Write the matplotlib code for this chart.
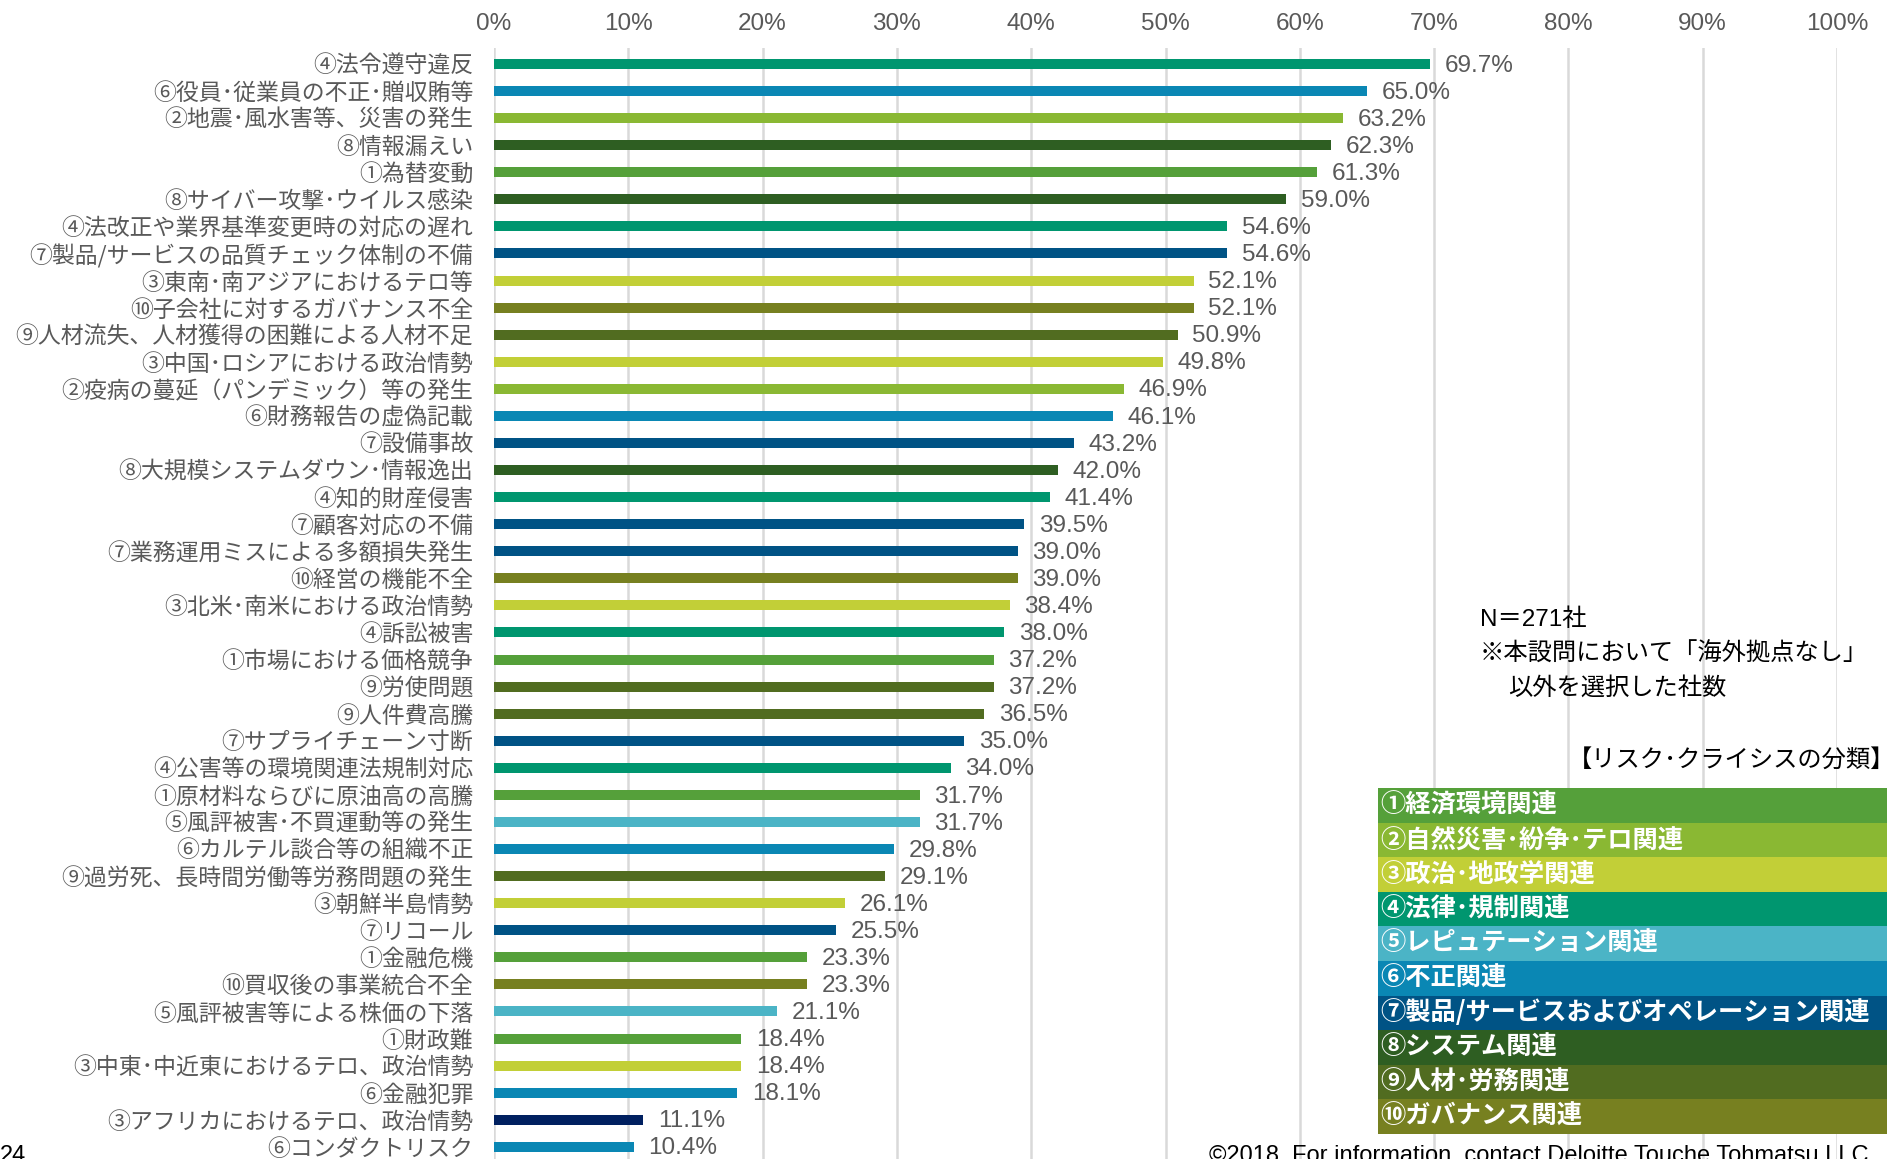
import numpy as np
import matplotlib.pyplot as plt
from matplotlib import font_manager

# risk items (top to bottom) and the share of companies choosing each
labels = [
    "④法令遵守違反",
    "⑥役員･従業員の不正･贈収賄等",
    "②地震･風水害等、災害の発生",
    "⑧情報漏えい",
    "①為替変動",
    "⑧サイバー攻撃･ウイルス感染",
    "④法改正や業界基準変更時の対応の遅れ",
    "⑦製品/サービスの品質チェック体制の不備",
    "③東南･南アジアにおけるテロ等",
    "⑩子会社に対するガバナンス不全",
    "⑨人材流失、人材獲得の困難による人材不足",
    "③中国･ロシアにおける政治情勢",
    "②疫病の蔓延（パンデミック）等の発生",
    "⑥財務報告の虚偽記載",
    "⑦設備事故",
    "⑧大規模システムダウン･情報逸出",
    "④知的財産侵害",
    "⑦顧客対応の不備",
    "⑦業務運用ミスによる多額損失発生",
    "⑩経営の機能不全",
    "③北米･南米における政治情勢",
    "④訴訟被害",
    "①市場における価格競争",
    "⑨労使問題",
    "⑨人件費高騰",
    "⑦サプライチェーン寸断",
    "④公害等の環境関連法規制対応",
    "①原材料ならびに原油高の高騰",
    "⑤風評被害･不買運動等の発生",
    "⑥カルテル談合等の組織不正",
    "⑨過労死、長時間労働等労務問題の発生",
    "③朝鮮半島情勢",
    "⑦リコール",
    "①金融危機",
    "⑩買収後の事業統合不全",
    "⑤風評被害等による株価の下落",
    "①財政難",
    "③中東･中近東におけるテロ、政治情勢",
    "⑥金融犯罪",
    "③アフリカにおけるテロ、政治情勢",
    "⑥コンダクトリスク",
]
values = [69.7, 65.0, 63.2, 62.3, 61.3, 59.0, 54.6, 54.6, 52.1, 52.1,
          50.9, 49.8, 46.9, 46.1, 43.2, 42.0, 41.4, 39.5, 39.0, 39.0,
          38.4, 38.0, 37.2, 37.2, 36.5, 35.0, 34.0, 31.7, 31.7, 29.8,
          29.1, 26.1, 25.5, 23.3, 23.3, 21.1, 18.4, 18.4, 18.1, 11.1, 10.4]

categories = [
    "①経済環境関連",
    "②自然災害･紛争･テロ関連",
    "③政治･地政学関連",
    "④法律･規制関連",
    "⑤レピュテーション関連",
    "⑥不正関連",
    "⑦製品/サービスおよびオペレーション関連",
    "⑧システム関連",
    "⑨人材･労務関連",
    "⑩ガバナンス関連",
]
xticks = [0, 10, 20, 30, 40, 50, 60, 70, 80, 90, 100]

cat_colors = ["#55A03A", "#8AB833", "#C2CF37", "#00966F", "#4BB4C6",
              "#0A87B4", "#005385", "#2E5E22", "#516C20", "#778020"]
nums = "①②③④⑤⑥⑦⑧⑨⑩"
colors = [cat_colors[nums.index(s[0])] for s in labels]
colors[labels.index("③アフリカにおけるテロ、政治情勢")] = "#002060"

installed = {f.name for f in font_manager.fontManager.ttflist}
narrow = "Liberation Sans Narrow" if "Liberation Sans Narrow" in installed else "Liberation Sans"
jp = ["Noto Sans CJK JP", "DejaVu Sans"]
num_font = [narrow, "Noto Sans CJK JP", "DejaVu Sans"]
grey = "#595959"

fig = plt.figure(figsize=(18.87, 11.59), dpi=100)
W, H = 1887, 1159
ax = fig.add_axes([494 / W, 0, (1837 - 494) / W, 1 - 48 / H])

y = np.arange(len(labels))
ax.barh(y, values, height=0.37, color=colors, zorder=3)
for yi, v in zip(y, values):
    ax.text(v + 1.1, yi + 0.06, f"{v:.1f}%", va="center", ha="left",
            fontsize=17.5, color=grey, family=num_font)

ax.set_xlim(0, 100)
ax.set_ylim(40.45, -0.59)
ax.set_xticks(xticks)
ax.set_xticklabels([f"{t}%" for t in xticks], family=num_font,
                   fontsize=17.5, color=grey)
ax.xaxis.tick_top()
ax.tick_params(axis="x", length=0, pad=9.5)
ax.set_yticks(y)
ax.set_yticklabels(labels, family=jp, fontsize=16.5, color=grey)
ax.tick_params(axis="y", length=0, pad=15)
ax.grid(axis="x", color="#D9D9D9", linewidth=1.8, zorder=0)
for s in ax.spines.values():
    s.set_visible(False)

# note
fig.text(1480 / W, 1 - 620 / H, "N＝271社", fontsize=17.5, va="center",
         family=["Liberation Sans", "Noto Sans CJK JP"], color="black")
fig.text(1480 / W, 1 - 654 / H, "※本設問において「海外拠点なし」", fontsize=17.5,
         va="center", family=jp, color="black")
fig.text(1508 / W, 1 - 688 / H, "以外を選択した社数", fontsize=17.5,
         va="center", family=jp, color="black")

# category legend
fig.text(1568 / W, 1 - 760 / H, "【リスク･クライシスの分類】", fontsize=17.5,
         va="center", family=jp, color="black")
lax = fig.add_axes([1378 / W, (H - 1134) / H, (W - 1378) / W, 346 / H])
ly = np.arange(len(categories))
lax.barh(ly, [1] * len(categories), height=1.0, color=cat_colors)
for yi, c in zip(ly, categories):
    lax.text(0.004, yi, c, va="center", ha="left", fontsize=18.2,
             fontweight="bold", color="white", family=jp)
lax.set_xlim(0, 1)
lax.set_ylim(len(categories) - 0.5, -0.5)
lax.axis("off")

# footer
fig.text(0, 1 - 1156 / H, "24", fontsize=17, va="center", color="black",
         family=["Liberation Sans"])
fig.text(1209 / W, 1 - 1156 / H,
         "©2018. For information, contact Deloitte Touche Tohmatsu LLC",
         fontsize=17, va="center", color="black", family=["Liberation Sans"])

fig.savefig("out.png", dpi=100)
